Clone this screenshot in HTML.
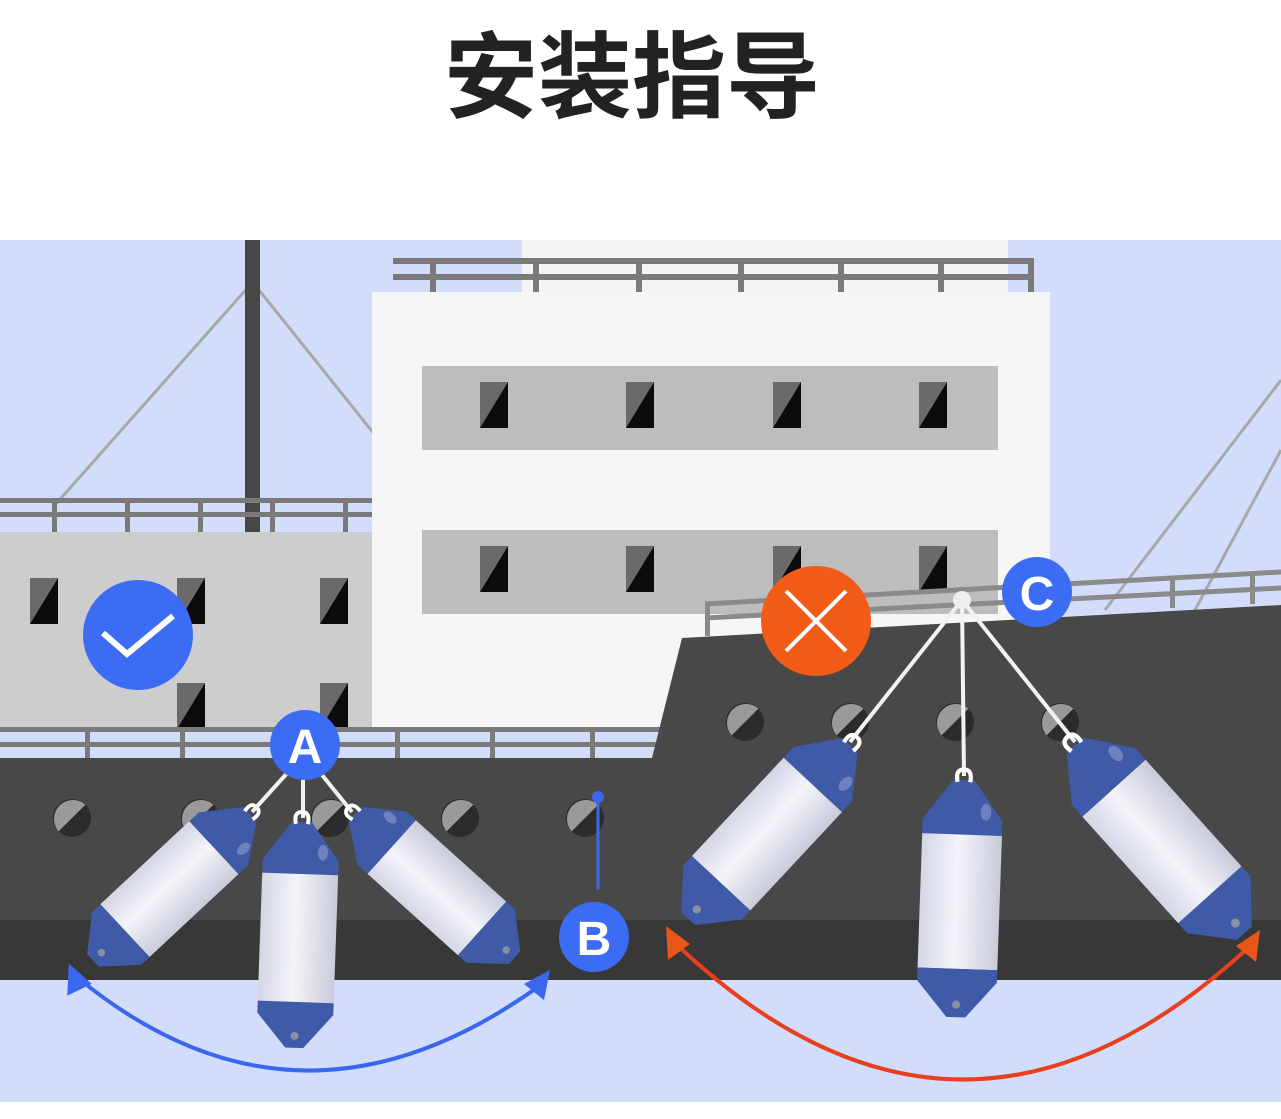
<!DOCTYPE html>
<html><head><meta charset="utf-8"><style>
html,body{margin:0;padding:0;background:#fff;}
svg{display:block;}
</style></head><body>
<svg width="1281" height="1119" viewBox="0 0 1281 1119" xmlns="http://www.w3.org/2000/svg">
<defs>
<linearGradient id="fb" x1="0" x2="1" y1="0" y2="0">
<stop offset="0" stop-color="#d4d6e6"/><stop offset="0.45" stop-color="#f4f4fa"/><stop offset="1" stop-color="#c9cbdc"/>
</linearGradient>
<g id="fender">
<path d="M-10,0 L10,0 L38,38 L38,52 L-38,52 L-38,38 Z" fill="#3f5aa6"/>
<rect x="-38" y="52" width="76" height="128" fill="url(#fb)"/>
<path d="M-38,180 L38,180 L38,192 L9,226 L-9,226 L-38,192 Z" fill="#3f5aa6"/>
<circle cx="0" cy="214" r="4" fill="#8a8fa8"/>
<ellipse cx="22" cy="30" rx="5" ry="8" fill="#6f82bf"/>
<path d="M-6,2 q-3,-12 6,-12 q8,0 6,12" fill="none" stroke="#fff" stroke-width="4"/>
</g>
<g id="win"><rect width="28" height="46" fill="#0b0b0b"/><path d="M0,0 L28,0 L0,46 Z" fill="#6a6a6a"/></g>
<g id="port"><circle r="19" fill="#2b2b2b"/><path d="M13.4,-13.4 A19,19 0 0 0 -13.4,13.4 Z" fill="#9a9a9a"/></g>
</defs>
<rect x="0" y="0" width="1281" height="1119" fill="#fff"/>
<rect x="0" y="240" width="1281" height="862" fill="#d1ddfb"/>
<rect x="522" y="240" width="486" height="55" fill="#f5f5f5"/>
<!-- rigging -->
<g stroke="#a8a8a8" stroke-width="3" fill="none">
<line x1="250" y1="285" x2="55" y2="505"/><line x1="255" y1="285" x2="375" y2="435"/>
<line x1="1281" y1="380" x2="1105" y2="610"/><line x1="1281" y1="450" x2="1195" y2="610"/>
</g>
<rect x="245" y="240" width="15" height="292" fill="#474747"/>
<!-- left railing top -->
<g fill="#7a7a7a"><rect x="0" y="498" width="372" height="5"/><rect x="0" y="512" width="372" height="5"/>
<rect x="52" y="498" width="5" height="34"/><rect x="125" y="498" width="5" height="34"/><rect x="198" y="498" width="5" height="34"/><rect x="270" y="498" width="5" height="34"/><rect x="343" y="498" width="5" height="34"/></g>
<rect x="0" y="532" width="372" height="200" fill="#cdcdcd"/>
<use href="#win" x="30" y="578" transform="translate(0,0)"/>
<use href="#win" x="177" y="578"/><use href="#win" x="320" y="578"/>
<use href="#win" x="177" y="683"/><use href="#win" x="320" y="683"/>
<!-- center building -->
<g fill="#7a7a7a"><rect x="393" y="258" width="640" height="6"/><rect x="393" y="274" width="640" height="6"/>
<rect x="430" y="258" width="6" height="34"/><rect x="533" y="258" width="6" height="34"/><rect x="636" y="258" width="6" height="34"/><rect x="738" y="258" width="6" height="34"/><rect x="838" y="258" width="6" height="34"/><rect x="938" y="258" width="6" height="34"/><rect x="1028" y="258" width="6" height="34"/></g>
<rect x="372" y="292" width="678" height="440" fill="#f6f6f6"/>
<rect x="422" y="366" width="576" height="84" fill="#bdbdbd"/>
<rect x="422" y="530" width="576" height="84" fill="#bdbdbd"/>
<use href="#win" x="480" y="382"/><use href="#win" x="626" y="382"/><use href="#win" x="773" y="382"/><use href="#win" x="919" y="382"/>
<use href="#win" x="480" y="546"/><use href="#win" x="626" y="546"/><use href="#win" x="773" y="546"/><use href="#win" x="919" y="546"/>
<!-- lower railing -->
<g fill="#7a7a7a"><rect x="0" y="727" width="660" height="5"/><rect x="0" y="742" width="660" height="5"/>
<rect x="85" y="727" width="5" height="31"/><rect x="180" y="727" width="5" height="31"/><rect x="490" y="727" width="5" height="31"/><rect x="395" y="727" width="5" height="31"/><rect x="590" y="727" width="5" height="31"/></g>
<!-- right railing -->
<g stroke="#8a8a8a" stroke-width="5" fill="none"><line x1="705" y1="604" x2="1281" y2="572"/><line x1="705" y1="618" x2="1281" y2="588"/></g>
<g fill="#8a8a8a"><rect x="705" y="604" width="5" height="32"/><rect x="1170" y="578" width="5" height="30"/><rect x="1250" y="574" width="5" height="30"/></g>
<!-- hull -->
<path d="M0,758 L652,758 L682,638 L1281,605 L1281,920 L0,920 Z" fill="#484848"/>
<rect x="0" y="920" width="1281" height="60" fill="#383838"/>
<use href="#port" x="72" y="818"/><use href="#port" x="200" y="818"/><use href="#port" x="330" y="818"/><use href="#port" x="460" y="818"/><use href="#port" x="585" y="818"/>
<use href="#port" x="745" y="722"/><use href="#port" x="850" y="722"/><use href="#port" x="955" y="722"/><use href="#port" x="1060" y="722"/>
<!-- ropes -->
<g stroke="#f2f2f2" stroke-width="4" fill="none">
<line x1="290" y1="770" x2="252" y2="812"/><line x1="303" y1="772" x2="303" y2="818"/><line x1="318" y1="770" x2="352" y2="812"/>
<line x1="962" y1="600" x2="850" y2="742"/><line x1="962" y1="600" x2="964" y2="776"/><line x1="962" y1="600" x2="1075" y2="742"/>
</g>
<circle cx="962" cy="600" r="9" fill="#eee"/>
<!-- fenders -->
<use href="#fender" transform="translate(250,814) rotate(47) scale(0.95)"/>
<use href="#fender" transform="translate(355,814) rotate(-48) scale(0.95)"/>
<use href="#fender" transform="translate(302,822) rotate(2) scale(1)"/>
<use href="#fender" transform="translate(850,745) rotate(43) scale(1.05)"/>
<use href="#fender" transform="translate(964,780) rotate(2) scale(1.05)"/>
<use href="#fender" transform="translate(1075,745) rotate(-42) scale(1.12)"/>
<!-- arrows -->
<path d="M78,978 Q300,1160 542,984" fill="none" stroke="#3b67ee" stroke-width="4"/>
<polygon points="66,964 92,980 70,996" fill="#3b67ee" transform="rotate(10 70 980)"/>
<polygon points="550,970 544,1000 524,984" fill="#3b67ee"/>
<path d="M674,942 Q960,1215 1250,946" fill="none" stroke="#e8401e" stroke-width="4"/>
<polygon points="666,926 690,944 668,960" fill="#e8561a"/>
<polygon points="1260,930 1256,962 1236,946" fill="#e8561a"/>
<!-- B pointer -->
<line x1="598" y1="797" x2="598" y2="890" stroke="#3b67ee" stroke-width="3"/>
<circle cx="598" cy="797" r="6" fill="#3b67ee"/>
<!-- badges -->
<circle cx="138" cy="635" r="55" fill="#3c6cf3"/>
<path d="M103,633 L127,654 L173,616" fill="none" stroke="#fff" stroke-width="6"/>
<circle cx="816" cy="621" r="55" fill="#f25c17"/>
<g stroke="#fff" stroke-width="4"><line x1="786" y1="591" x2="846" y2="651"/><line x1="846" y1="591" x2="786" y2="651"/></g>
<g font-family="Liberation Sans, sans-serif" font-weight="bold" font-size="48" fill="#fff" text-anchor="middle">
<circle cx="305" cy="745" r="35" fill="#3c6cf3"/><text x="305" y="763">A</text>
<circle cx="594" cy="937" r="35" fill="#3c6cf3"/><text x="594" y="955">B</text>
<circle cx="1037" cy="592" r="35" fill="#3c6cf3"/><text x="1037" y="610">C</text>
</g>
<text x="632" y="110" text-anchor="middle" font-family="Liberation Sans, 'Noto Sans CJK SC', sans-serif" font-weight="bold" font-size="94" fill="#222">安装指导</text>
</svg>
</body></html>
